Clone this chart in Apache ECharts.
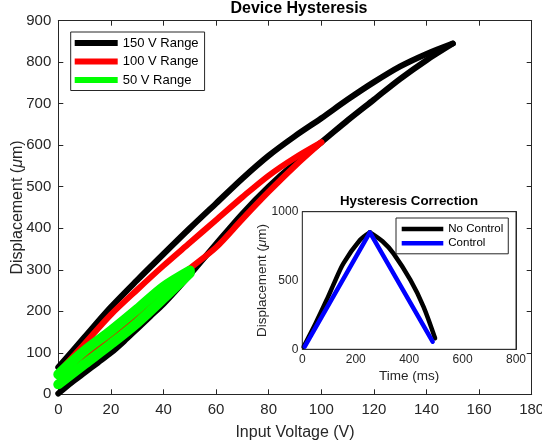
<!DOCTYPE html>
<html><head><meta charset="utf-8">
<script src="https://cdn.jsdelivr.net/npm/echarts@6/dist/echarts.min.js"></script>
<style>html,body{margin:0;padding:0;background:#fff}#c{width:542px;height:445px}</style>
</head><body><div id="c"></div>
<script>
// ---- Main chart data (Input Voltage V -> Displacement um) ----
const xTicks = [0, 20, 40, 60, 80, 100, 120, 140, 160, 180];
const yTicks = [0, 100, 200, 300, 400, 500, 600, 700, 800, 900];

// 150 V range: ascending (lower) branch then descending (upper) branch
const volt150Up   = [0, 5, 10, 15, 20, 25, 30, 35, 40, 45, 50, 60, 70, 80, 90, 100, 110, 120, 130, 140, 150];
const disp150Up   = [2, 28, 52, 76, 100, 128, 158, 188, 218, 252, 288, 362, 435, 500, 557, 607, 660, 710, 760, 805, 845];
const volt150Down = [150, 140, 130, 120, 110, 100, 90, 80, 70, 60, 50, 40, 30, 20, 10, 0];
const disp150Down = [845, 820, 790, 752, 710, 665, 622, 575, 520, 460, 400, 338, 275, 210, 138, 65];

// 100 V range
const volt100Up   = [0, 10, 20, 30, 40, 50, 60, 70, 80, 90, 100];
const disp100Up   = [46, 89, 137, 189, 246, 303, 354, 422, 488, 550, 607];
const volt100Down = [100, 90, 80, 70, 60, 50, 40, 30, 20, 10, 0];
const disp100Down = [607, 570, 527, 475, 420, 365, 310, 252, 192, 122, 52];

// 50 V range
const volt50Up    = [0, 10, 20, 30, 40, 50];
const disp50Up    = [24, 73, 121, 172, 231, 292];
const volt50Down  = [50, 40, 30, 20, 10, 0];
const disp50Down  = [298, 259, 205, 153, 105, 48];

// ---- Inset data (Time ms -> Displacement um) ----
const insetXTicks = [0, 200, 400, 600, 800];
const insetYTicks = [0, 500, 1000];
const timeNoCtrlUp   = [5, 50, 91, 120, 154, 216, 253];
const dispNoCtrlUp   = [19, 190, 358, 485, 625, 794, 850];
const timeNoCtrlDown = [253, 300, 341, 405, 454, 497];
const dispNoCtrlDown = [850, 785, 697, 502, 309, 80];
const timeCtrl    = [9, 253, 488];
const dispCtrl    = [20, 850, 55];

const zip = (a, b) => a.map((v, i) => [v, b[i]]);
const FONT = '"Liberation Sans", Arial, Helvetica, sans-serif';
const AX = '#262626';

const chart = echarts.init(document.getElementById('c'), null, {renderer: 'canvas'});

function lineSeries(name, data, color, width, xi, yi, smooth) {
  return {
    name, type: 'line', data, xAxisIndex: xi, yAxisIndex: yi,
    showSymbol: false, symbol: 'none', smooth: smooth,
    lineStyle: {color, width, cap: 'round', join: 'round'},
    itemStyle: {color}, silent: true, animation: false
  };
}

const mainX = {
  type: 'value', gridIndex: 0, min: xTicks[0], max: xTicks[xTicks.length - 1], interval: xTicks[1] - xTicks[0],
  axisLine: {show: true, onZero: false, lineStyle: {color: AX, width: 1}},
  axisTick: {show: true, inside: true, length: 5, lineStyle: {color: AX}},
  axisLabel: {color: AX, fontSize: 15, fontFamily: FONT, margin: 8},
  splitLine: {show: false},
  name: 'Input Voltage (V)', nameLocation: 'middle', nameGap: 30, nameMoveOverlap: false,
  nameTextStyle: {color: AX, fontSize: 16, fontFamily: FONT}
};
const mainY = {
  type: 'value', gridIndex: 0, min: yTicks[0], max: yTicks[yTicks.length - 1], interval: yTicks[1] - yTicks[0],
  axisLine: {show: true, onZero: false, lineStyle: {color: AX, width: 1}},
  axisTick: {show: true, inside: true, length: 5, lineStyle: {color: AX}},
  axisLabel: {color: AX, fontSize: 15, fontFamily: FONT, margin: 7},
  splitLine: {show: false},
  name: '{n|Displacement (}{m|μ}{n|m)}', nameLocation: 'middle', nameGap: 33, nameMoveOverlap: false,
  nameTextStyle: {color: AX, fontSize: 16, fontFamily: FONT,
    rich: {n: {fontSize: 16, fontFamily: FONT, color: AX}, m: {fontSize: 16, fontFamily: FONT, color: AX, fontStyle: 'italic'}}}
};
const boxAxis = (base, pos) => Object.assign({}, base, {
  position: pos, name: '', axisLabel: {show: false}
});

const insetX = {
  type: 'value', gridIndex: 1, min: insetXTicks[0], max: insetXTicks[insetXTicks.length - 1], interval: insetXTicks[1] - insetXTicks[0],
  axisLine: {show: true, onZero: false, lineStyle: {color: AX, width: 1}},
  axisTick: {show: true, inside: true, length: 3, lineStyle: {color: AX}},
  axisLabel: {color: AX, fontSize: 12, fontFamily: FONT, margin: 4},
  splitLine: {show: false},
  name: 'Time (ms)', nameLocation: 'middle', nameGap: 20, nameMoveOverlap: false,
  nameTextStyle: {color: AX, fontSize: 13.5, fontFamily: FONT}
};
const insetY = {
  type: 'value', gridIndex: 1, min: insetYTicks[0], max: insetYTicks[insetYTicks.length - 1], interval: insetYTicks[1] - insetYTicks[0],
  axisLine: {show: true, onZero: false, lineStyle: {color: AX, width: 1}},
  axisTick: {show: true, inside: true, length: 3, lineStyle: {color: AX}},
  axisLabel: {color: AX, fontSize: 12, fontFamily: FONT, margin: 4, formatter: v => String(v)},
  splitLine: {show: false},
  name: '{n|Displacement (}{m|μ}{n|m)}', nameLocation: 'middle', nameGap: 33, nameMoveOverlap: false,
  nameTextStyle: {color: AX, fontSize: 13.5, fontFamily: FONT,
    rich: {n: {fontSize: 13.5, fontFamily: FONT, color: AX}, m: {fontSize: 13.5, fontFamily: FONT, color: AX, fontStyle: 'italic'}}}
};

const option = {
  animation: false,
  backgroundColor: '#fff',
  textStyle: {fontFamily: FONT},
  grid: [
    {left: 58.3, right: 10.3, top: 20.7, bottom: 50.7, containLabel: false, outerBoundsMode: 'none'},
    {left: 302.3, right: 26, top: 211.7, bottom: 95.7, containLabel: false, outerBoundsMode: 'none',
     show: true, backgroundColor: '#fff', borderColor: AX, borderWidth: 1, z: 5}
  ],
  xAxis: [mainX, boxAxis(mainX, 'top'), insetX, boxAxis(insetX, 'top')],
  yAxis: [mainY, boxAxis(mainY, 'right'), insetY, boxAxis(insetY, 'right')],
  legend: [
    {
      data: ['150 V Range', '100 V Range', '50 V Range'],
      orient: 'vertical', left: 70.7, top: 32, icon: 'rect',
      itemWidth: 43, itemHeight: 6, itemGap: 3.5,
      padding: [3.5, 6, 3, 4],
      backgroundColor: '#fff', borderColor: AX, borderWidth: 1, borderRadius: 0,
      textStyle: {color: '#000', fontSize: 13, fontFamily: FONT, lineHeight: 15},
      selectedMode: false
    },
    {
      data: ['No Control', 'Control'],
      orient: 'vertical', left: 396, top: 218, icon: 'rect',
      itemWidth: 41.6, itemHeight: 4.5, itemGap: 1.3,
      padding: [4.5, 5, 4, 5.7],
      backgroundColor: '#fff', borderColor: AX, borderWidth: 1, borderRadius: 0,
      textStyle: {color: '#000', fontSize: 11.5, fontFamily: FONT, lineHeight: 13},
      selectedMode: false, z: 10
    }
  ],
  graphic: [
    {type: 'text', x: 299, y: 9, z: 20,
     style: {text: 'Device Hysteresis', fill: '#000', font: 'bold 16px ' + FONT, align: 'center', verticalAlign: 'middle'}},
    {type: 'text', x: 409, y: 201, z: 20,
     style: {text: 'Hysteresis Correction', fill: '#000', font: 'bold 13.3px ' + FONT, align: 'center', verticalAlign: 'middle'}}
  ],
  series: [
    lineSeries('150 V Range', zip(volt150Up, disp150Up), '#000000', 6, 0, 0, 0.3),
    lineSeries('150 V Range', zip(volt150Down, disp150Down), '#000000', 6, 0, 0, 0.3),
    lineSeries('100 V Range', zip(volt100Up, disp100Up), '#ff0000', 6, 0, 0, 0.3),
    lineSeries('100 V Range', zip(volt100Down, disp100Down), '#ff0000', 6, 0, 0, 0.3),
    lineSeries('50 V Range', zip(volt50Up, disp50Up), '#00ff00', 10, 0, 0, 0.3),
    lineSeries('50 V Range', zip(volt50Down, disp50Down), '#00ff00', 10, 0, 0, 0.3),
    Object.assign(lineSeries('No Control', zip(timeNoCtrlUp, dispNoCtrlUp), '#000000', 4.5, 2, 2, 0.3), {z: 8}),
    Object.assign(lineSeries('No Control', zip(timeNoCtrlDown, dispNoCtrlDown), '#000000', 4.5, 2, 2, 0.3), {z: 8}),
    Object.assign(lineSeries('Control', zip(timeCtrl, dispCtrl), '#0000ff', 4.5, 2, 2, false), {z: 8})
  ]
};
chart.setOption(option);
</script>
</body></html>
